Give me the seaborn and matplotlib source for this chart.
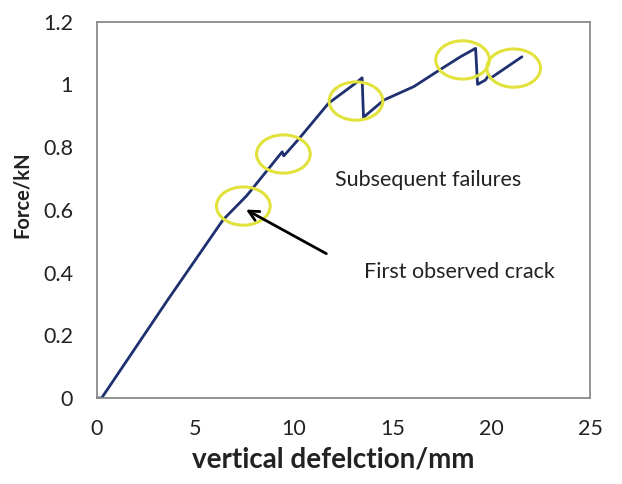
import matplotlib
matplotlib.use("Agg")
import matplotlib.pyplot as plt
from matplotlib.patches import Ellipse
import seaborn as sns
import pandas as pd

# Load-deflection record of the beam test
deflection_mm = [0.05, 0.25, 3.6, 6.4, 7.6, 9.4, 9.48, 10.2, 11.75, 13.1, 13.45,
                 13.52, 14.55, 16.07, 17.5, 18.43, 19.2, 19.3, 19.7, 19.87, 19.96, 21.55]
force_kN = [0.0, 0.0, 0.313, 0.568, 0.645, 0.785, 0.772, 0.823, 0.94, 1.003, 1.021,
            0.895, 0.95, 0.993, 1.051, 1.088, 1.115, 1.0, 1.014, 1.03, 1.02, 1.088]

# Highlighted failure events (centre deflection, centre force)
event_x = [7.43, 9.46, 13.14, 18.54, 21.13]
event_y = [0.612, 0.778, 0.947, 1.078, 1.052]

x_ticks = [0, 5, 10, 15, 20, 25]
y_ticks = [0, 0.2, 0.4, 0.6, 0.8, 1.0, 1.2]
y_tick_labels = ["0", "0.2", "0.4", "0.6", "0.8", "1", "1.2"]

sns.set_style("white")
plt.rcParams["font.family"] = ["Lato", "DejaVu Sans"]

df = pd.DataFrame({"deflection": deflection_mm, "force": force_kN})

fig = plt.figure(figsize=(6.22, 4.84), dpi=100)
ax = fig.add_axes([0.1555, 0.1777, 0.7931, 0.7775])

sns.lineplot(data=df, x="deflection", y="force", sort=False, estimator=None,
             color="#1f3070", linewidth=2.0, ax=ax)

for cx, cy in zip(event_x, event_y):
    ax.add_patch(Ellipse((cx, cy), width=2.72, height=0.122, fill=False,
                         edgecolor="#e2e23c", linewidth=2.2, zorder=3))

ax.annotate("", xy=(7.44, 0.605), xytext=(11.76, 0.456),
            arrowprops=dict(arrowstyle="->", color="black", lw=2.0,
                            mutation_scale=18))

ax.text(12.1, 0.695, "Subsequent failures", fontsize=15.5, va="center", ha="left",
        color="#222222")
ax.text(13.52, 0.402, "First observed crack", fontsize=15.5, va="center", ha="left",
        color="#222222")

ax.set_xlim(0, 25)
ax.set_ylim(0, 1.2)
ax.set_xticks(x_ticks)
ax.set_xticklabels([str(t) for t in x_ticks])
ax.set_yticks(y_ticks)
ax.set_yticklabels(y_tick_labels)
ax.tick_params(axis="both", direction="out", length=5, width=1, color="#888888",
               labelsize=15.5, labelcolor="#222222")
ax.tick_params(axis="x", pad=10)
ax.tick_params(axis="y", pad=12)

for side in ["left", "right", "top", "bottom"]:
    ax.spines[side].set_visible(True)
    ax.spines[side].set_color("#8a8a8a")
    ax.spines[side].set_linewidth(1.3)

ax.set_xlabel("vertical defelction/mm", fontsize=20, fontweight="bold",
              color="#222222")
ax.set_ylabel("Force/kN", fontsize=14.5, fontweight="bold", color="#222222")
ax.xaxis.set_label_coords(0.48, -0.128)
ax.yaxis.set_label_coords(-0.131, 0.54)

fig.savefig("out.png", dpi=100, facecolor="white")
